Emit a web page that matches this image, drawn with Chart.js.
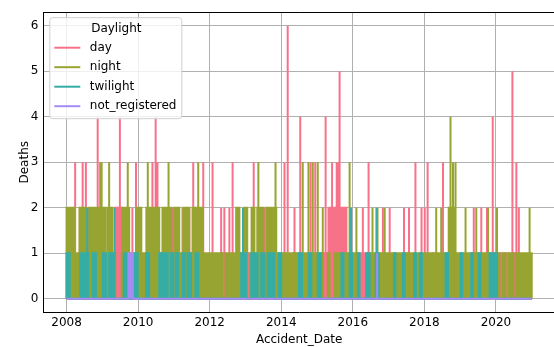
<!DOCTYPE html>
<html><head><meta charset="utf-8">
<script src="https://cdn.jsdelivr.net/npm/chart.js@4.4.0/dist/chart.umd.min.js"></script>
<style>
html,body{margin:0;padding:0;background:#fff;overflow:hidden;width:554px;height:347px;}
#wrap{position:relative;width:560px;height:347px;}
</style></head><body>
<div id="wrap"><canvas id="c" width="560" height="347"></canvas></div>
<script>
const categories = ['day', 'night', 'twilight', 'not_registered'];
const colors = ['#f77189', '#97a431', '#36ada4', '#a48cf4'];
const legendTitle = 'Daylight';
const xTitle = 'Accident_Date';
const yTitle = 'Deaths';
const xTicks = [2008, 2010, 2012, 2014, 2016, 2018, 2020];
const yTicks = [0, 1, 2, 3, 4, 5, 6];
const dateRange = [2008.0, 2021.0];

// blocks: [startYear, endYear, deaths]   spikes: [year, deaths]
const dayBlocks = [
  [2009.36, 2009.54, 2], [2015.35, 2015.82, 2],
  [2012.35, 2012.44, 1], [2013.04, 2013.14, 1], [2014.35, 2014.40, 1], [2015.16, 2015.30, 1],
  [2015.58, 2015.63, 1], [2016.10, 2016.40, 1], [2017.51, 2017.53, 1], [2018.23, 2018.25, 1],
  [2019.40, 2019.45, 1], [2020.10, 2020.19, 1], [2020.27, 2020.36, 1], [2020.48, 2020.55, 1]
];
const daySpikes = [
  [2008.24, 3], [2008.40, 2], [2008.45, 3], [2008.54, 3], [2008.61, 2], [2008.87, 4], [2009.05, 2],
  [2009.19, 2], [2009.43, 2], [2009.49, 4], [2009.84, 2], [2009.94, 3], [2010.03, 2], [2010.37, 2],
  [2010.40, 3], [2010.49, 4], [2010.54, 3], [2010.97, 2], [2011.10, 2], [2011.24, 2], [2011.43, 2],
  [2011.54, 3], [2011.82, 3], [2012.08, 3], [2012.32, 2], [2012.41, 2], [2012.55, 2], [2012.64, 3],
  [2013.23, 3], [2013.45, 2], [2013.53, 2], [2013.67, 2], [2014.09, 3], [2014.18, 6], [2014.37, 2],
  [2014.53, 4], [2014.82, 3], [2014.95, 3], [2015.24, 4], [2015.32, 2], [2015.42, 3], [2015.55, 3],
  [2015.59, 3], [2015.63, 5], [2015.68, 2], [2016.28, 2], [2016.44, 3], [2016.84, 2], [2017.03, 2],
  [2017.43, 2], [2017.57, 2], [2017.75, 3], [2017.92, 2], [2018.01, 2], [2018.09, 3], [2018.52, 3],
  [2019.38, 2], [2019.59, 2], [2019.75, 2], [2019.91, 4], [2020.46, 5], [2020.57, 3], [2020.64, 2]
];
const nightBlocks = [
  [2008.00, 2009.36, 1], [2009.54, 2012.35, 1], [2012.44, 2013.04, 1], [2013.14, 2014.35, 1],
  [2014.40, 2015.11, 1], [2015.13, 2015.16, 1], [2015.30, 2015.35, 1], [2015.49, 2015.58, 1],
  [2015.63, 2016.10, 1], [2016.40, 2017.51, 1], [2017.53, 2018.23, 1], [2018.25, 2019.40, 1],
  [2019.45, 2020.10, 1], [2020.19, 2020.27, 1], [2020.36, 2020.48, 1], [2020.55, 2021.00, 1],
  [2008.00, 2008.22, 2], [2008.36, 2008.55, 2], [2008.63, 2008.83, 2], [2008.89, 2009.08, 2],
  [2009.14, 2009.28, 2], [2009.56, 2009.75, 2], [2009.95, 2010.09, 2], [2010.23, 2010.59, 2],
  [2010.68, 2010.93, 2], [2011.01, 2011.15, 2], [2011.26, 2011.43, 2], [2011.52, 2011.80, 2],
  [2012.74, 2012.83, 2], [2012.97, 2013.05, 2], [2013.17, 2013.25, 2], [2013.33, 2013.50, 2],
  [2013.58, 2013.86, 2], [2018.68, 2018.87, 2]
];
const nightSpikes = [
  [2008.94, 3], [2008.98, 3], [2009.19, 3], [2009.71, 3], [2010.27, 3], [2010.85, 3], [2011.68, 3],
  [2013.36, 3], [2013.84, 3], [2014.60, 3], [2014.76, 3], [2014.88, 3], [2015.02, 3], [2015.91, 3],
  [2018.73, 4], [2018.80, 3], [2018.87, 3],
  [2015.16, 2], [2016.10, 2], [2016.55, 2], [2016.69, 2], [2016.89, 2], [2018.33, 2], [2018.47, 2],
  [2019.15, 2], [2019.45, 2], [2019.78, 2], [2020.03, 2], [2020.94, 2]
];
const twilightBlocks = [
  [2008.00, 2008.09, 1], [2008.38, 2008.47, 1], [2008.52, 2008.61, 1], [2008.73, 2008.82, 1],
  [2009.01, 2009.10, 1], [2009.19, 2009.27, 1], [2009.30, 2009.35, 1], [2009.60, 2009.70, 1],
  [2009.89, 2009.99, 1], [2010.22, 2010.31, 1], [2010.59, 2010.69, 1], [2010.73, 2010.83, 1],
  [2010.92, 2010.99, 1], [2011.06, 2011.12, 1], [2011.24, 2011.31, 1], [2011.38, 2011.48, 1],
  [2011.60, 2011.68, 1], [2012.88, 2013.02, 1], [2013.16, 2013.34, 1], [2013.44, 2013.53, 1],
  [2013.62, 2013.81, 1], [2013.93, 2014.00, 1], [2014.49, 2014.58, 1], [2014.77, 2014.84, 1],
  [2015.02, 2015.11, 1], [2015.68, 2015.74, 1], [2015.91, 2015.98, 1], [2016.14, 2016.19, 1],
  [2016.37, 2016.47, 1], [2016.64, 2016.73, 1], [2017.15, 2017.19, 1], [2017.40, 2017.45, 1],
  [2017.71, 2017.76, 1], [2017.87, 2017.93, 1], [2018.59, 2018.66, 1], [2019.01, 2019.06, 1],
  [2019.31, 2019.35, 1], [2019.52, 2019.57, 1], [2019.82, 2020.03, 1]
];
const twilightSpikes = [
  [2008.58, 2], [2009.33, 2], [2012.93, 2], [2015.95, 2], [2016.66, 2]
];
const notRegisteredBlocks = [[2009.73, 2009.85, 1]];
const notRegisteredSpikes = [[2016.68, 1]];

function buildSeries(blocks, spikes) {
  const set = new Set(dateRange);
  blocks.forEach(b => { set.add(b[0]); set.add(b[1]); });
  spikes.forEach(s => set.add(s[0]));
  const xs = Array.from(set).sort((a, b) => a - b);
  const level = (a, b) => blocks.reduce((m, bl) => (bl[0] <= a && bl[1] >= b) ? Math.max(m, bl[2]) : m, 0);
  const pts = [];
  for (let i = 0; i < xs.length; i++) {
    const t = xs[i];
    const left = i > 0 ? level(xs[i - 1], t) : 0;
    const right = i < xs.length - 1 ? level(t, xs[i + 1]) : 0;
    const sp = spikes.filter(s => s[0] === t).reduce((m, s) => Math.max(m, s[1]), 0);
    const peak = Math.max(left, right, sp);
    pts.push({x: t, y: left});
    if (peak > left && peak > right) pts.push({x: t, y: peak});
    pts.push({x: t, y: right});
  }
  return pts;
}

const seriesData = [
  buildSeries(dayBlocks, daySpikes),
  buildSeries(nightBlocks, nightSpikes),
  buildSeries(twilightBlocks, twilightSpikes),
  buildSeries(notRegisteredBlocks, notRegisteredSpikes)
];

const FONT = 'DejaVu Sans';

const framePlugin = {
  id: 'frameLegend',
  afterDatasetsDraw(chart) {
    const ctx = chart.ctx, ca = chart.chartArea;
    ctx.save();
    // top spine
    ctx.strokeStyle = '#000'; ctx.lineWidth = 1;
    ctx.beginPath(); ctx.moveTo(ca.left, Math.round(ca.top) + 0.5); ctx.lineTo(ca.right, Math.round(ca.top) + 0.5); ctx.stroke();
    // legend box
    const bx = ca.left + 6.5, by = ca.top + 5.5, bw = 132, bh = 101, r = 3;
    ctx.beginPath();
    ctx.moveTo(bx + r, by); ctx.lineTo(bx + bw - r, by); ctx.quadraticCurveTo(bx + bw, by, bx + bw, by + r);
    ctx.lineTo(bx + bw, by + bh - r); ctx.quadraticCurveTo(bx + bw, by + bh, bx + bw - r, by + bh);
    ctx.lineTo(bx + r, by + bh); ctx.quadraticCurveTo(bx, by + bh, bx, by + bh - r);
    ctx.lineTo(bx, by + r); ctx.quadraticCurveTo(bx, by, bx + r, by);
    ctx.closePath();
    ctx.fillStyle = 'rgba(255,255,255,0.8)'; ctx.fill();
    ctx.strokeStyle = '#d0d0d0'; ctx.stroke();
    ctx.font = '12px "' + FONT + '"';
    ctx.fillStyle = '#000';
    ctx.textBaseline = 'middle';
    ctx.textAlign = 'center';
    ctx.fillText(legendTitle, bx + 66.5, by + 11);
    ctx.textAlign = 'left';
    const ys = [30, 49.5, 69, 88.5];
    categories.forEach((c, i) => {
      const y = by + ys[i];
      ctx.strokeStyle = colors[i]; ctx.lineWidth = 2;
      ctx.beginPath(); ctx.moveTo(bx + 4.5, y); ctx.lineTo(bx + 30.5, y); ctx.stroke();
      ctx.fillStyle = '#000';
      ctx.fillText(c, bx + 40, y);
    });
    ctx.restore();
  }
};

new Chart(document.getElementById('c'), {
  type: 'line',
  data: {
    datasets: categories.map((c, i) => ({
      label: c,
      data: seriesData[i],
      borderColor: colors[i],
      backgroundColor: colors[i],
      borderWidth: 2,
      pointRadius: 0,
      pointHoverRadius: 0,
      fill: 'origin',
      tension: 0,
      order: categories.length - i
    }))
  },
  options: {
    responsive: false,
    animation: false,
    events: [],
    layout: {padding: {left: 0, right: 5, top: 10.7, bottom: 0}},
    plugins: {legend: {display: false}, tooltip: {enabled: false}},
    scales: {
      x: {
        type: 'linear', min: 2007.35, max: 2021.65,
        afterBuildTicks: s => { s.ticks = xTicks.map(v => ({value: v})); },
        afterFit: s => { s.height = 34.7; },
        ticks: {callback: v => String(v), font: {family: FONT, size: 12}, color: '#000', padding: 3, maxRotation: 0, autoSkip: false},
        grid: {color: '#b0b0b0', lineWidth: 1, drawTicks: false},
        border: {color: '#000', width: 1},
        title: {display: true, text: xTitle, font: {family: FONT, size: 12}, color: '#000', padding: {top: 0, bottom: 0}}
      },
      y: {
        type: 'linear', min: -0.3, max: 6.3,
        afterBuildTicks: s => { s.ticks = yTicks.map(v => ({value: v})); },
        afterFit: s => { s.width = 43.3; },
        ticks: {callback: v => String(v), font: {family: FONT, size: 12}, color: '#000', padding: 5},
        grid: {color: '#b0b0b0', lineWidth: 1, drawTicks: false},
        border: {color: '#000', width: 1},
        title: {display: true, text: yTitle, font: {family: FONT, size: 12}, color: '#000', padding: {top: 18, bottom: 0}}
      }
    }
  },
  plugins: [framePlugin]
});
</script>
</body></html>
